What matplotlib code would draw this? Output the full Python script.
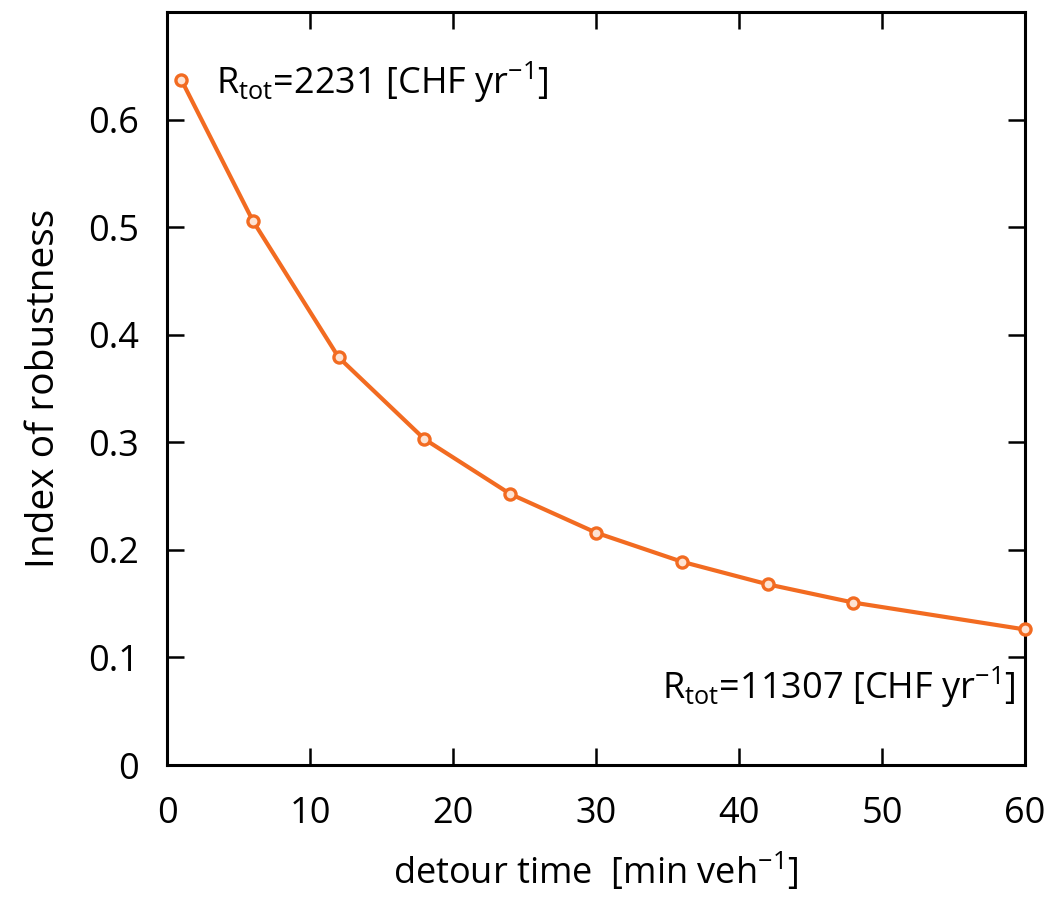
import matplotlib
matplotlib.use("Agg")
import matplotlib.pyplot as plt

plt.rcParams["font.family"] = ["Open Sans", "DejaVu Sans"]
plt.rcParams["mathtext.fontset"] = "custom"
plt.rcParams["mathtext.rm"] = "Open Sans"
plt.rcParams["mathtext.it"] = "Open Sans:italic"

# data
detour = [1, 6, 12, 18, 24, 30, 36, 42, 48, 60]
robust = [0.637, 0.506, 0.379, 0.303, 0.252, 0.216, 0.189, 0.168, 0.151, 0.126]
xticks = [0, 10, 20, 30, 40, 50, 60]
yticks = [0, 0.1, 0.2, 0.3, 0.4, 0.5, 0.6]
ytick_labels = ["0", "0.1", "0.2", "0.3", "0.4", "0.5", "0.6"]

orange = "#F26B21"

fig = plt.figure(figsize=(10.53, 8.98), dpi=100)
ax = fig.add_axes([0.1586, 0.1481, 0.8148, 0.8385])

ax.plot(detour, robust, color=orange, lw=3, marker="o", ms=8,
        mfc="#fde3d3", mec=orange, mew=2.4, clip_on=False, zorder=3)

ax.set_xlim(0, 60)
ax.set_ylim(0, 0.7)
ax.set_xticks(xticks)
ax.set_yticks(yticks)
ax.set_yticklabels(ytick_labels)
ax.tick_params(direction="in", length=12, width=1.8, labelsize=26,
               top=True, right=True)
ax.tick_params(axis="x", pad=22)
ax.tick_params(axis="y", pad=20)
for s in ax.spines.values():
    s.set_linewidth(2.2)

ax.set_xlabel("detour time  [min veh$^\\mathregular{-1}$]", fontsize=26, labelpad=14)
ax.set_ylabel("Index of robustness", fontsize=28, labelpad=18)

ax.text(3.4, 0.635, "R$_\\mathregular{tot}$=2231 [CHF yr$^\\mathregular{-1}$]",
        fontsize=26, va="center", ha="left")
ax.text(59.3, 0.072, "R$_\\mathregular{tot}$=11307 [CHF yr$^\\mathregular{-1}$]",
        fontsize=26, va="center", ha="right")

fig.savefig("out.png", dpi=100)
